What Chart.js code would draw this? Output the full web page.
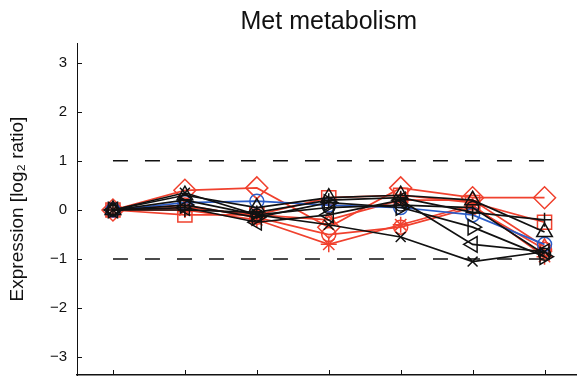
<!DOCTYPE html>
<html>
<head>
<meta charset="utf-8">
<script src="https://cdn.jsdelivr.net/npm/chart.js@4/dist/chart.umd.min.js"></script>
<style>
  html, body { margin: 0; padding: 0; background: #fff; overflow: hidden; }
  #wrap { width: 593px; height: 394px; }
</style>
</head>
<body>
<div id="wrap"><canvas id="metChart" width="593" height="394"></canvas></div>
<script>
// x positions (time points) and y tick labels
const timePoints = [1, 2, 3, 4, 5, 6, 7];
const yTicks = [-3, -2, -1, 0, 1, 2, 3];
const dashLevels = [1, -1];

// expression profiles, one array per gene (log2 ratio at each time point)
const redDiamond  = [0, 0.40, 0.45, -0.35, 0.45, 0.25, 0.25];
const redSquare   = [0, -0.10, -0.10, 0.25, 0.30, 0.15, -0.25];
const redCircle   = [0, 0.10, -0.15, -0.50, -0.35, 0.05, -0.80];
const redStar     = [0, 0.00, -0.20, -0.70, -0.30, 0.10, -0.95];
const redTriangle = [0, 0.05, -0.10, -0.20, 0.20, 0.20, -0.75];
const blueCircle  = [0, 0.15, 0.18, 0.10, 0.05, -0.10, -0.70];
const blackX      = [0, 0.35, -0.10, -0.30, -0.55, -1.05, -0.85];
const blackTriUp  = [0, 0.30, 0.05, 0.25, 0.30, 0.20, -0.45];
const blackTriR   = [0, 0.10, -0.15, 0.15, 0.05, -0.35, -0.95];
const blackTriL   = [0, 0.05, -0.25, -0.10, 0.20, -0.70, -0.85];
const blackPlus   = [0, 0.00, -0.05, 0.20, 0.25, -0.05, -0.20];
const blackCircle = [0, 0.20, -0.10, 0.05, 0.10, 0.05, -0.90];

const RED = "#f0412e";
const BLUE = "#2a5cc8";
const BLACK = "#111111";
const FONT = "'Liberation Sans', Arial, sans-serif";

const toPoints = (vals) => vals.map((v, i) => ({ x: timePoints[i], y: v }));

function series(vals, color, style, radius, rotation) {
  return {
    data: toPoints(vals),
    borderColor: color,
    backgroundColor: "transparent",
    pointBorderColor: color,
    pointBackgroundColor: "transparent",
    pointStyle: style,
    pointRadius: radius,
    pointRotation: rotation || 0,
    pointBorderWidth: 1.5,
    borderWidth: 1.7,
    tension: 0
  };
}

const dashSets = dashLevels.map(lv => ({
  data: [{ x: timePoints[0], y: lv }, { x: timePoints[timePoints.length - 1], y: lv }],
  borderColor: BLACK,
  borderWidth: 1.5,
  borderDash: [15, 17],
  pointRadius: 0
}));

// inward MATLAB-style ticks and the title over the axes
const innerTicks = {
  id: "innerTicks",
  afterDraw(chart) {
    const { ctx, chartArea, scales } = chart;
    ctx.save();
    ctx.strokeStyle = BLACK;
    ctx.lineWidth = 1;
    yTicks.forEach(v => {
      const y = Math.round(scales.y.getPixelForValue(v)) + 0.5;
      ctx.beginPath();
      ctx.moveTo(chartArea.left, y);
      ctx.lineTo(chartArea.left + 5, y);
      ctx.stroke();
    });
    timePoints.forEach(v => {
      const x = Math.round(scales.x.getPixelForValue(v)) + 0.5;
      ctx.beginPath();
      ctx.moveTo(x, chartArea.bottom);
      ctx.lineTo(x, chartArea.bottom - 5);
      ctx.stroke();
    });
    ctx.fillStyle = "#111";
    ctx.font = "25px " + FONT;
    ctx.textAlign = "center";
    ctx.textBaseline = "alphabetic";
    ctx.fillText("Met metabolism", (chartArea.left + chartArea.right) / 2, 29);
    ctx.restore();
  }
};

new Chart(document.getElementById("metChart").getContext("2d"), {
  type: "line",
  data: {
    datasets: [
      ...dashSets,
      series(blackCircle, BLACK, "circle", 6),
      series(blackPlus, BLACK, "cross", 7),
      series(blackTriL, BLACK, "triangle", 9, -90),
      series(blackTriR, BLACK, "triangle", 9, 90),
      series(blackTriUp, BLACK, "triangle", 9),
      series(blackX, BLACK, "crossRot", 7),
      series(blueCircle, BLUE, "circle", 7),
      series(redTriangle, RED, "triangle", 8),
      series(redStar, RED, "star", 8),
      series(redCircle, RED, "circle", 7),
      series(redSquare, RED, "rect", 10),
      series(redDiamond, RED, "rectRot", 11)
    ]
  },
  options: {
    responsive: false,
    animation: false,
    layout: { padding: { top: 43, right: 0, bottom: 0, left: 0 } },
    plugins: {
      legend: { display: false },
      tooltip: { enabled: false },
      title: { display: false }
    },
    scales: {
      x: {
        type: "linear",
        min: 0.5,
        max: 7.5,
        grid: { display: false, drawTicks: false },
        border: { display: true, color: BLACK, width: 1.5 },
        ticks: { display: false },
        afterFit: (s) => { s.height = 1; }
      },
      y: {
        min: -3.36,
        max: 3.4,
        afterBuildTicks: (s) => { s.ticks = yTicks.map(v => ({ value: v })); },
        grid: { display: false, drawTicks: false },
        border: { display: true, color: BLACK, width: 1 },
        ticks: {
          color: "#111",
          padding: 10,
          font: { family: FONT, size: 15 },
          callback: (v) => v < 0 ? "\u2212" + Math.abs(v) : String(v)
        },
        title: {
          display: true,
          text: "Expression [log\u2082 ratio]",
          color: "#111",
          font: { family: FONT, size: 19 },
          padding: { top: 6, bottom: 0 }
        },
        afterFit: (s) => { s.width = 77; }
      }
    }
  },
  plugins: [innerTicks]
});
</script>
</body>
</html>
